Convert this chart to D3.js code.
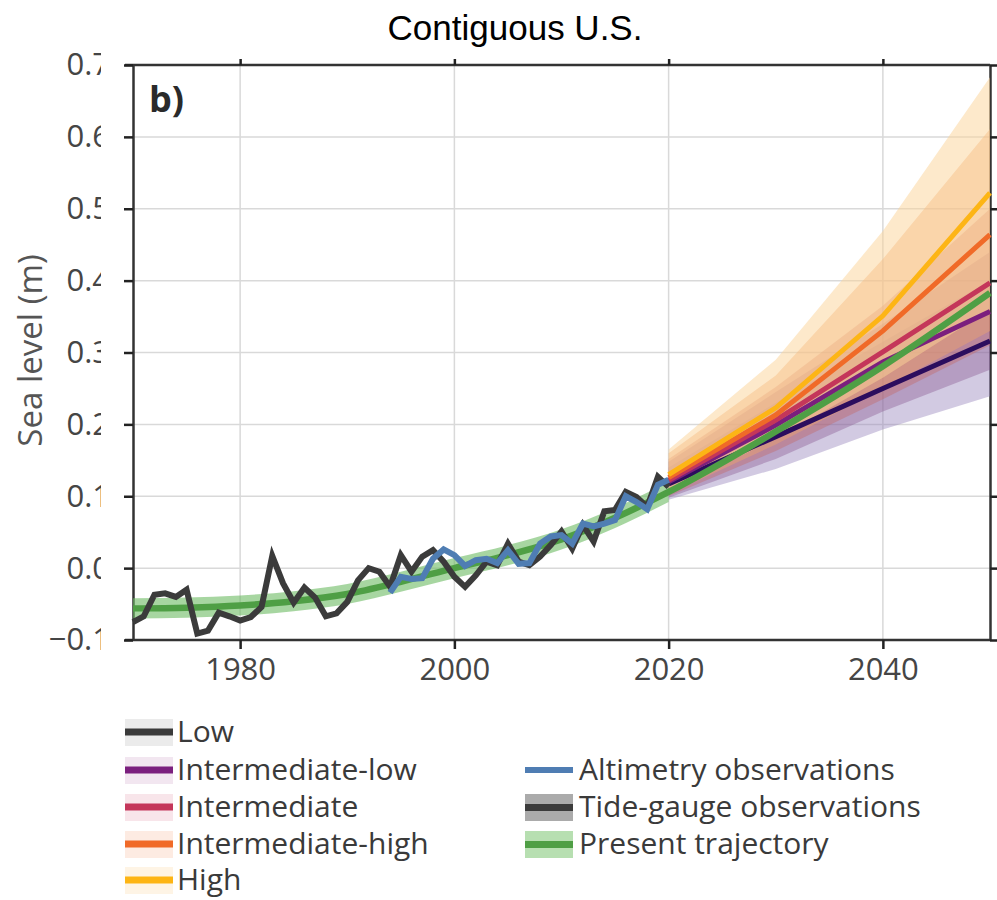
<!DOCTYPE html>
<html>
<head>
<meta charset="utf-8">
<script src="https://cdn.jsdelivr.net/npm/d3@7"></script>
<style>
  body { margin: 0; background: #fff; }
  svg { display: block; }
</style>
</head>
<body>
<svg id="chart"></svg>
<script>
// Observations (annual, m)
const tideStart = 1970;
const tideGauge = [-0.075, -0.067, -0.037, -0.035, -0.040, -0.030, -0.091, -0.087, -0.062, -0.067,
  -0.073, -0.068, -0.054, 0.017, -0.021, -0.048, -0.027, -0.041, -0.067, -0.063,
  -0.047, -0.017, 0.000, -0.005, -0.026, 0.018, -0.005, 0.016, 0.025, 0.009,
  -0.012, -0.026, -0.010, 0.009, 0.004, 0.034, 0.009, 0.004, 0.016, 0.032,
  0.051, 0.027, 0.060, 0.037, 0.079, 0.081, 0.106, 0.099, 0.085, 0.127, 0.113];
const altiStart = 1994;
const altimetry = [-0.034, -0.012, -0.015, -0.014, 0.013, 0.026, 0.018, 0.003, 0.011, 0.013,
  0.007, 0.025, 0.006, 0.007, 0.034, 0.044, 0.046, 0.034, 0.062, 0.058,
  0.062, 0.067, 0.100, 0.092, 0.082, 0.116, 0.123];

// Present trajectory
const trajYears = [1970, 1975, 1980, 1985, 1990, 1995, 2000, 2005, 2010, 2015, 2020, 2030, 2040, 2050];
const trajValues = [-0.056, -0.055, -0.052, -0.046, -0.036, -0.019, 0.000, 0.018, 0.040, 0.070, 0.106, 0.190, 0.281, 0.383];
const trajHalfWidth = 0.014;

// Scenarios
const projYears = [2020, 2030, 2040, 2050];
const lowMid = [0.117, 0.183, 0.250, 0.316];
const lowLo = [0.095, 0.138, 0.193, 0.239];
const lowHi = [0.140, 0.230, 0.315, 0.400];
const intLowMid = [0.120, 0.199, 0.287, 0.357];
const intLowLo = [0.098, 0.152, 0.218, 0.276];
const intLowHi = [0.148, 0.245, 0.340, 0.440];
const intMid = [0.122, 0.206, 0.301, 0.397];
const intLo = [0.100, 0.163, 0.235, 0.310];
const intHi = [0.152, 0.252, 0.365, 0.500];
const intHighMid = [0.126, 0.213, 0.330, 0.464];
const intHighLo = [0.103, 0.172, 0.250, 0.330];
const intHighHi = [0.160, 0.268, 0.430, 0.611];
const highMid = [0.130, 0.223, 0.351, 0.522];
const highLo = [0.108, 0.180, 0.265, 0.360];
const highHi = [0.165, 0.290, 0.469, 0.683];

const xTicks = [1980, 2000, 2020, 2040];
const yTicks = [-0.1, 0.0, 0.1, 0.2, 0.3, 0.4, 0.5, 0.6, 0.7];

const width = 997, height = 900;
const svg = d3.select("#chart").attr("width", width).attr("height", height);

const x = d3.scaleLinear().domain([1970, 2050]).range([133, 990]);
const y = d3.scaleLinear().domain([-0.1, 0.7]).range([640, 65]);

const scenarios = [
  {name: "Low", mid: lowMid, lo: lowLo, hi: lowHi, line: "#2b0d5e", band: "#9480bb", op: 0.42, legLine: "#3a3a3a", legBand: "#ebebeb"},
  {name: "Intermediate-low", mid: intLowMid, lo: intLowLo, hi: intLowHi, line: "#7b1f7e", band: "#85558f", op: 0.38, legLine: "#7b1f7e", legBand: "#f2e6f0"},
  {name: "Intermediate", mid: intMid, lo: intLo, hi: intHi, line: "#c4365a", band: "#c4645e", op: 0.38, legLine: "#c4365a", legBand: "#f8e5ea"},
  {name: "Intermediate-high", mid: intHighMid, lo: intHighLo, hi: intHighHi, line: "#f06a28", band: "#f0a56c", op: 0.45, legLine: "#f06a28", legBand: "#fdebe2"},
  {name: "High", mid: highMid, lo: highLo, hi: highHi, line: "#fdb515", band: "#fcd498", op: 0.5, legLine: "#fdb515", legBand: "#fef4e5"}
];

// Title
svg.append("text")
  .attr("x", 515).attr("y", 40)
  .attr("text-anchor", "middle")
  .style("font-family", "'Liberation Sans', Arial, sans-serif")
  .style("font-size", "35px")
  .attr("fill", "#000")
  .text("Contiguous U.S.");

// Grid
const grid = svg.append("g");
xTicks.forEach(t => {
  grid.append("line").attr("x1", x(t)).attr("x2", x(t)).attr("y1", y(0.7)).attr("y2", y(-0.1))
    .attr("stroke", "#d9d9d9").attr("stroke-width", 1.5);
});
yTicks.forEach(t => {
  grid.append("line").attr("x1", x(1970)).attr("x2", x(2050)).attr("y1", y(t)).attr("y2", y(t))
    .attr("stroke", "#d9d9d9").attr("stroke-width", 1.5);
});

// Y tick labels are cropped at the left margin in the source figure
svg.append("clipPath").attr("id", "ylab").attr("clipPathUnits", "userSpaceOnUse")
  .append("rect").attr("x", -200).attr("y", -100).attr("width", 200 - (x(1970) - 101)).attr("height", 200);

// Axes
const fontTick = "'Open Sans', 'DejaVu Sans', sans-serif";
const axBottom = svg.append("g").attr("transform", `translate(0,${y(-0.1)})`)
  .call(d3.axisBottom(x).tickValues(xTicks).tickFormat(d3.format("d")).tickSize(9).tickSizeOuter(0).tickPadding(9));
const axTop = svg.append("g").attr("transform", `translate(0,${y(0.7)})`)
  .call(d3.axisTop(x).tickValues(xTicks).tickFormat("").tickSize(6).tickSizeOuter(0));
const axLeft = svg.append("g").attr("transform", `translate(${x(1970)},0)`)
  .call(d3.axisLeft(y).tickValues(yTicks).tickFormat(d3.format(".1f")).tickSize(9).tickSizeOuter(0).tickPadding(14));
const axRight = svg.append("g").attr("transform", `translate(${x(2050)},0)`)
  .call(d3.axisRight(y).tickValues(yTicks).tickFormat("").tickSize(8).tickSizeOuter(0));

[axBottom, axTop, axLeft, axRight].forEach(g => {
  g.select(".domain").attr("stroke", "#333").attr("stroke-width", 2.5);
  g.selectAll(".tick line").attr("stroke", "#222").attr("stroke-width", 2.5);
  g.selectAll("text").style("font-family", fontTick).style("font-size", "31px").attr("fill", "#454545");
});
axBottom.select(".domain").attr("d", `M${x(1970) - 8},0H${x(2050)}`);
axTop.select(".domain").attr("d", `M${x(1970) - 8},0H${x(2050)}`);
axLeft.selectAll(".tick text").attr("clip-path", "url(#ylab)");

svg.append("text")
  .attr("transform", `translate(42,${(y(0.7) + y(-0.1)) / 2 - 2}) rotate(-90)`)
  .attr("text-anchor", "middle")
  .style("font-family", fontTick)
  .style("font-size", "33px")
  .attr("fill", "#555")
  .text("Sea level (m)");

// Plot contents
const plot = svg.append("g");

const area = d3.area()
  .x((d, i) => x(projYears[i]))
  .y0(d => y(d[0]))
  .y1(d => y(d[1]));
const line = d3.line().x(d => x(d[0])).y(d => y(d[1]));

scenarios.forEach(s => {
  plot.append("path")
    .datum(s.lo.map((v, i) => [v, s.hi[i]]))
    .attr("d", area)
    .attr("fill", s.band)
    .attr("fill-opacity", s.op);
});

// present trajectory band (historical)
const trajHist = trajYears.map((t, i) => [t, trajValues[i]]).filter(d => d[0] <= 2020);
plot.append("path")
  .datum(trajHist)
  .attr("d", d3.area().x(d => x(d[0])).y0(d => y(d[1] - trajHalfWidth)).y1(d => y(d[1] + trajHalfWidth)).curve(d3.curveMonotoneX))
  .attr("fill", "#6dbb62")
  .attr("fill-opacity", 0.6);

scenarios.forEach(s => {
  plot.append("path")
    .datum(s.mid.map((v, i) => [projYears[i], v]))
    .attr("d", line)
    .attr("fill", "none")
    .attr("stroke", s.line)
    .attr("stroke-width", 5);
});

plot.append("path")
  .datum(trajYears.map((t, i) => [t, trajValues[i]]))
  .attr("d", d3.line().x(d => x(d[0])).y(d => y(d[1])).curve(d3.curveMonotoneX))
  .attr("fill", "none")
  .attr("stroke", "#4f9f45")
  .attr("stroke-width", 6.5);

plot.append("path")
  .datum(tideGauge.map((v, i) => [tideStart + i, v]))
  .attr("d", line)
  .attr("fill", "none")
  .attr("stroke", "#3b3b3b")
  .attr("stroke-width", 6);

plot.append("path")
  .datum(altimetry.map((v, i) => [altiStart + i, v]))
  .attr("d", line)
  .attr("fill", "none")
  .attr("stroke", "#4f7db3")
  .attr("stroke-width", 6);

// panel label
svg.append("text")
  .attr("x", 149).attr("y", 112)
  .style("font-family", fontTick)
  .style("font-size", "36px")
  .style("font-weight", "bold")
  .attr("fill", "#2a2a2a")
  .text("b)");

// Legend
const legend = svg.append("g");
const legFont = "30px";
const rowY = [732, 770, 807, 844, 880];
scenarios.forEach((s, i) => {
  const g = legend.append("g").attr("transform", `translate(125,${rowY[i]})`);
  g.append("rect").attr("x", 0).attr("y", -13).attr("width", 48).attr("height", 27).attr("fill", s.legBand);
  g.append("rect").attr("x", 0).attr("y", -3.5).attr("width", 48).attr("height", 7).attr("fill", s.legLine);
  g.append("text").attr("x", 52).attr("y", 0).attr("dy", "0.33em")
    .style("font-family", fontTick).style("font-size", legFont).attr("fill", "#3a3a3a").text(s.name);
});

const obsItems = [
  {name: "Altimetry observations", line: "#4f7db3", band: null},
  {name: "Tide-gauge observations", line: "#3b3b3b", band: "#ababab"},
  {name: "Present trajectory", line: "#4f9f45", band: "#b7dfb1"}
];
obsItems.forEach((o, i) => {
  const g = legend.append("g").attr("transform", `translate(525,${rowY[i + 1]})`);
  if (o.band) g.append("rect").attr("x", 0).attr("y", -13).attr("width", 48).attr("height", 27).attr("fill", o.band);
  g.append("rect").attr("x", 0).attr("y", -3).attr("width", 48).attr("height", o.band ? 7 : 6).attr("fill", o.line);
  g.append("text").attr("x", 54).attr("y", 0).attr("dy", "0.33em")
    .style("font-family", fontTick).style("font-size", legFont).attr("fill", "#3a3a3a").text(o.name);
});
</script>
</body>
</html>
